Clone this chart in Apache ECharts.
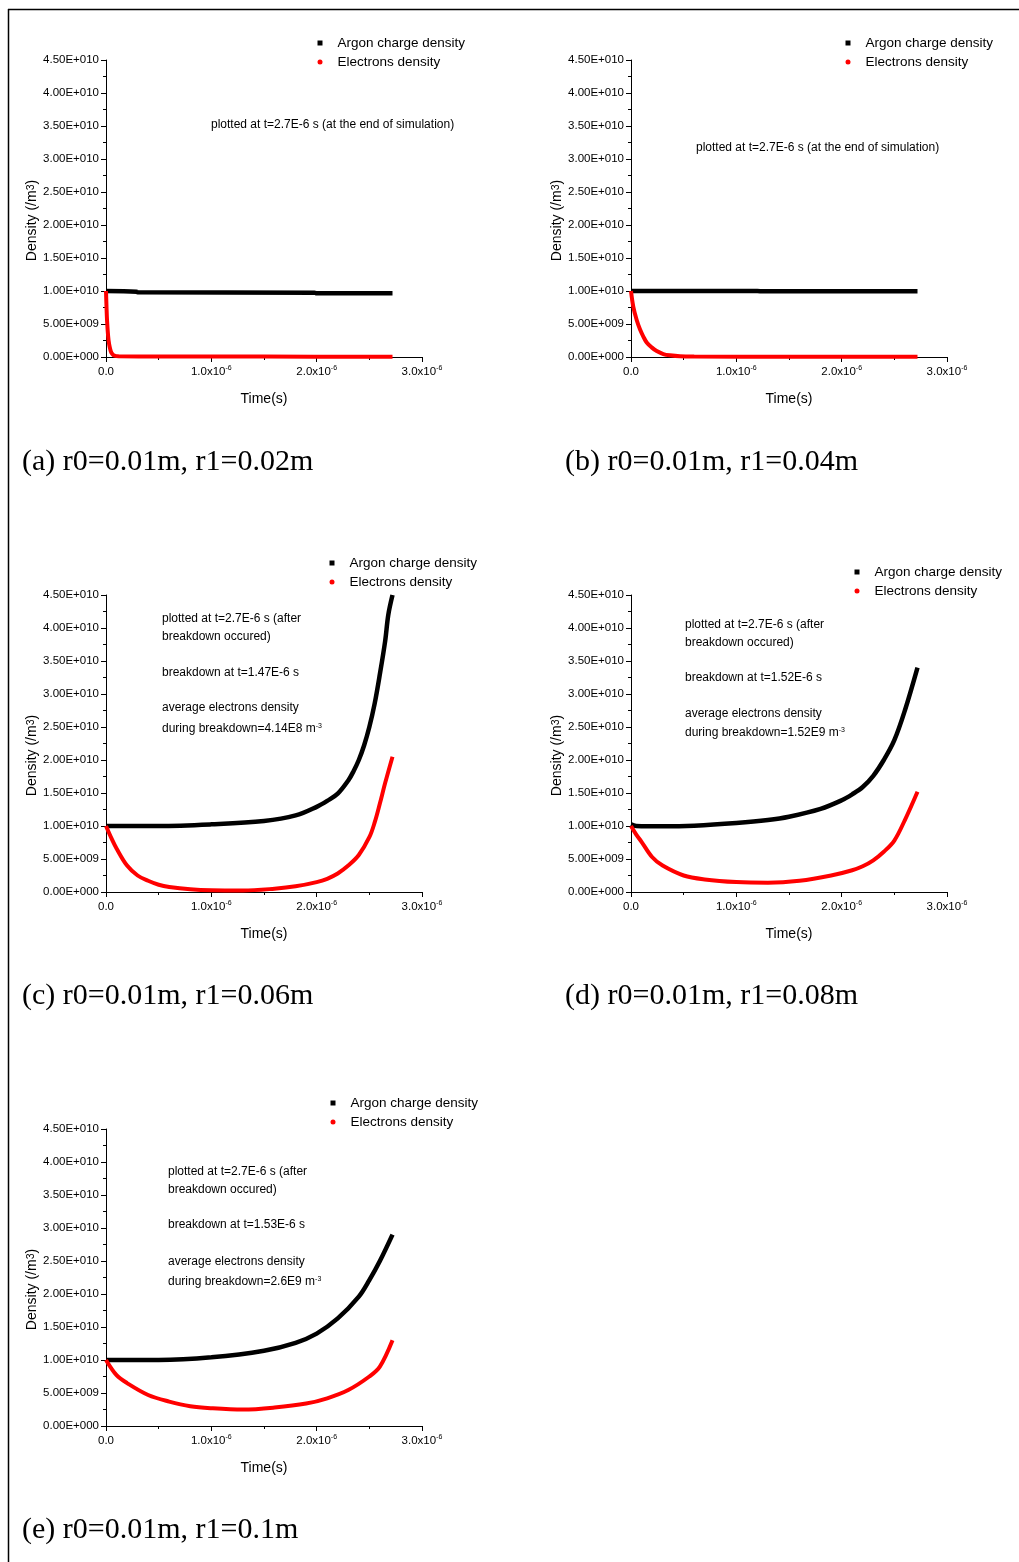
<!DOCTYPE html>
<html><head><meta charset="utf-8">
<script src="https://cdn.jsdelivr.net/npm/echarts@6/dist/echarts.min.js"></script>
<style>html,body{margin:0;padding:0;background:#fff}#c{width:1019px;height:1562px}</style>
</head><body><div id="c"></div><script>
// ---- data (time in seconds, density in /m^3) ----
const a_argT = [0, 0.29e-6, 0.30e-6, 1.98e-6, 2.0e-6, 2.72e-6];
const a_argV = [1.0e10, 0.99e10, 0.98e10, 0.975e10, 0.965e10, 0.965e10];
const a_eleT = [0, 0.005e-6, 0.01e-6, 0.02e-6, 0.03e-6, 0.045e-6, 0.06e-6, 0.08e-6, 0.12e-6, 0.5e-6, 1.5e-6, 2.72e-6];
const a_eleV = [1.0e10, 0.75e10, 0.55e10, 0.32e10, 0.19e10, 0.09e10, 0.045e10, 0.02e10, 0.01e10, 0.008e10, 0.006e10, 0.005e10];

const b_argT = [0, 0.6e-6, 1.2e-6, 1.25e-6, 2.0e-6, 2.72e-6];
const b_argV = [1.0e10, 1.0e10, 1.0e10, 0.995e10, 0.995e10, 0.995e10];
const b_eleT = [0, 0.022e-6, 0.054e-6, 0.085e-6, 0.117e-6, 0.149e-6, 0.196e-6, 0.244e-6, 0.307e-6, 0.37e-6, 0.465e-6, 0.6e-6, 1.5e-6, 2.72e-6];
const b_eleV = [1.0e10, 0.76e10, 0.56e10, 0.42e10, 0.31e10, 0.22e10, 0.146e10, 0.09e10, 0.045e10, 0.025e10, 0.01e10, 0.006e10, 0.005e10, 0.005e10];

const c_argT = [0, 0.5e-6, 1.0e-6, 1.5e-6, 1.8e-6, 2.0e-6, 2.1e-6, 2.2e-6, 2.3e-6, 2.35e-6, 2.4e-6, 2.45e-6, 2.5e-6, 2.55e-6, 2.6e-6, 2.65e-6, 2.68e-6, 2.72e-6];
const c_argV = [1.0e10, 1.0e10, 1.025e10, 1.076e10, 1.16e10, 1.29e10, 1.38e10, 1.49e10, 1.69e10, 1.83e10, 2.0e10, 2.22e10, 2.5e10, 2.85e10, 3.3e10, 3.8e10, 4.2e10, 4.5e10];
const c_eleT = [0, 0.05e-6, 0.1e-6, 0.2e-6, 0.3e-6, 0.4e-6, 0.5e-6, 0.6e-6, 0.8e-6, 1.0e-6, 1.3e-6, 1.6e-6, 1.8e-6, 2.0e-6, 2.1e-6, 2.2e-6, 2.3e-6, 2.4e-6, 2.5e-6, 2.55e-6, 2.6e-6, 2.65e-6, 2.72e-6];
const c_eleV = [1.0e10, 0.82e10, 0.66e10, 0.40e10, 0.25e10, 0.17e10, 0.11e10, 0.076e10, 0.04e10, 0.025e10, 0.022e10, 0.05e10, 0.086e10, 0.15e10, 0.2e10, 0.28e10, 0.40e10, 0.56e10, 0.83e10, 1.05e10, 1.34e10, 1.65e10, 2.05e10];

const d_argT = [0, 0.05e-6, 0.3e-6, 0.6e-6, 1.0e-6, 1.3e-6, 1.5e-6, 1.8e-6, 2.0e-6, 2.1e-6, 2.2e-6, 2.3e-6, 2.4e-6, 2.5e-6, 2.6e-6, 2.72e-6];
const d_argV = [1.025e10, 1.0e10, 0.995e10, 1.005e10, 1.045e10, 1.09e10, 1.14e10, 1.26e10, 1.39e10, 1.48e10, 1.59e10, 1.76e10, 2.0e10, 2.3e10, 2.75e10, 3.4e10];
const d_eleT = [0, 0.05e-6, 0.1e-6, 0.2e-6, 0.3e-6, 0.5e-6, 0.7e-6, 1.0e-6, 1.3e-6, 1.6e-6, 1.9e-6, 2.1e-6, 2.2e-6, 2.3e-6, 2.4e-6, 2.5e-6, 2.6e-6, 2.72e-6];
const d_eleV = [1.0e10, 0.87e10, 0.76e10, 0.53e10, 0.40e10, 0.25e10, 0.19e10, 0.15e10, 0.14e10, 0.17e10, 0.25e10, 0.33e10, 0.39e10, 0.48e10, 0.61e10, 0.78e10, 1.09e10, 1.52e10];

const e_argT = [0, 0.5e-6, 1.0e-6, 1.5e-6, 1.8e-6, 2.0e-6, 2.2e-6, 2.4e-6, 2.5e-6, 2.6e-6, 2.72e-6];
const e_argV = [1.0e10, 1.0e10, 1.04e10, 1.14e10, 1.26e10, 1.40e10, 1.63e10, 1.96e10, 2.21e10, 2.5e10, 2.9e10];
const e_eleT = [0, 0.1e-6, 0.2e-6, 0.4e-6, 0.6e-6, 0.8e-6, 1.0e-6, 1.3e-6, 1.6e-6, 1.9e-6, 2.1e-6, 2.3e-6, 2.5e-6, 2.6e-6, 2.72e-6];
const e_eleV = [1.0e10, 0.77e10, 0.65e10, 0.47e10, 0.37e10, 0.30e10, 0.27e10, 0.25e10, 0.28e10, 0.34e10, 0.42e10, 0.545e10, 0.75e10, 0.90e10, 1.30e10];

const seriesNames = ['Argon charge density', 'Electrons density'];
const captions = ['(a) r0=0.01m, r1=0.02m', '(b) r0=0.01m, r1=0.04m', '(c) r0=0.01m, r1=0.06m', '(d) r0=0.01m, r1=0.08m', '(e) r0=0.01m, r1=0.1m'];
const noteA = 'plotted at t=2.7E-6 s (at the end of simulation)';
const notesC = ['plotted at t=2.7E-6 s (after', 'breakdown occured)', 'breakdown at t=1.47E-6 s', 'average electrons density', 'during breakdown=4.14E8 m{s|-3}'];
const notesD = ['plotted at t=2.7E-6 s (after', 'breakdown occured)', 'breakdown at t=1.52E-6 s', 'average electrons density', 'during breakdown=1.52E9 m{s|-3}'];
const notesE = ['plotted at t=2.7E-6 s (after', 'breakdown occured)', 'breakdown at t=1.53E-6 s', 'average electrons density', 'during breakdown=2.6E9 m{s|-3}'];

const panels = [
  {arg: [a_argT, a_argV], ele: [a_eleT, a_eleV]},
  {arg: [b_argT, b_argV], ele: [b_eleT, b_eleV]},
  {arg: [c_argT, c_argV], ele: [c_eleT, c_eleV]},
  {arg: [d_argT, d_argV], ele: [d_eleT, d_eleV]},
  {arg: [e_argT, e_argV], ele: [e_eleT, e_eleV]}
];

// ---- layout ----
const SANS = '"Liberation Sans", Arial, sans-serif';
const SERIF = '"Liberation Serif", "Times New Roman", serif';
const grids = [
  {left: 106, top: 60}, {left: 631, top: 60},
  {left: 106, top: 595}, {left: 631, top: 595},
  {left: 106, top: 1129}
];
const legendPos = [[317.5, 36], [845.5, 36], [329.5, 556], [854.5, 565], [330.5, 1096]];
const captionPos = [[22, 462], [565, 462], [22, 996], [565, 996], [22, 1530]];

function fmtY(v) {
  if (v === 0) return '0.00E+000';
  const e = Math.floor(Math.log10(v) + 1e-9);
  const m = v / Math.pow(10, e);
  return m.toFixed(2) + 'E+' + String(e).padStart(3, '0');
}
function fmtX(v) {
  if (v === 0) return '{a|0.0}';
  const m = Math.round(v * 1e7) / 10;
  return '{a|' + m.toFixed(1) + 'x10}{b|-6}';
}
function zip(t, v) { return t.map((x, i) => [x, v[i]]); }

const option = {
  backgroundColor: '#fff',
  animation: false,
  grid: grids.map(g => ({left: g.left, top: g.top, width: 316, height: 297, containLabel: false})),
  xAxis: grids.map((g, i) => ({
    gridIndex: i, type: 'value', min: 0, max: 3e-6, interval: 1e-6,
    axisLine: {onZero: false, lineStyle: {color: '#000', width: 1}},
    axisTick: {length: 5, lineStyle: {color: '#000', width: 1}},
    minorTick: {show: true, splitNumber: 2, length: 3, lineStyle: {color: '#000', width: 1}},
    splitLine: {show: false},
    axisLabel: {margin: 8, color: '#000', formatter: fmtX, fontFamily: SANS,
      rich: {a: {fontSize: 11.5, fontFamily: SANS, color: '#000', lineHeight: 14},
             b: {fontSize: 7, fontFamily: SANS, color: '#000', verticalAlign: 'top', lineHeight: 8}}},
    name: 'Time(s)', nameLocation: 'middle', nameGap: 35,
    nameTextStyle: {fontSize: 14, fontFamily: SANS, color: '#000'}
  })),
  yAxis: grids.map((g, i) => ({
    gridIndex: i, type: 'value', min: 0, max: 4.5e10, interval: 5e9,
    axisLine: {show: true, onZero: false, lineStyle: {color: '#000', width: 1}},
    axisTick: {show: true, length: 5, lineStyle: {color: '#000', width: 1}},
    minorTick: {show: true, splitNumber: 2, length: 3, lineStyle: {color: '#000', width: 1}},
    splitLine: {show: false},
    axisLabel: {margin: 7, color: '#000', fontSize: 11.5, fontFamily: SANS, formatter: fmtY},
    name: 'Density (/m{s|3})', nameLocation: 'middle', nameGap: 60,
    nameTextStyle: {fontSize: 14, fontFamily: SANS, color: '#000', padding: [0, 24, 0, 0],
      rich: {s: {fontSize: 10.5, fontFamily: SANS, color: '#000', verticalAlign: 'top', lineHeight: 10}}}
  })),
  legend: legendPos.map(p => ({
    left: p[0], top: p[1], orient: 'vertical', padding: 0,
    itemWidth: 5, itemHeight: 5, itemGap: 5, selectedMode: false,
    textStyle: {fontSize: 13.5, fontFamily: SANS, color: '#000', lineHeight: 14, padding: [0, 0, 0, 10]},
    data: [{name: seriesNames[0], icon: 'rect'}, {name: seriesNames[1], icon: 'circle'}]
  })),
  series: []
};
panels.forEach((p, i) => {
  option.series.push({
    name: seriesNames[0], type: 'line', xAxisIndex: i, yAxisIndex: i,
    data: zip(p.arg[0], p.arg[1]), showSymbol: false, smooth: 0.35,
    lineStyle: {color: '#000', width: 4.5}, itemStyle: {color: '#000'}
  });
  option.series.push({
    name: seriesNames[1], type: 'line', xAxisIndex: i, yAxisIndex: i,
    data: zip(p.ele[0], p.ele[1]), showSymbol: false, smooth: 0.35,
    lineStyle: {color: '#ff0000', width: 4}, itemStyle: {color: '#ff0000'}
  });
});

const g = [];
g.push({type: 'line', shape: {x1: 8, y1: 9.5, x2: 1019, y2: 9.5}, style: {stroke: '#000', lineWidth: 1.5}});
g.push({type: 'line', shape: {x1: 8.5, y1: 9, x2: 8.5, y2: 1562}, style: {stroke: '#000', lineWidth: 1.5}});
captions.forEach((c, i) => g.push({type: 'text', x: captionPos[i][0], y: captionPos[i][1],
  style: {text: c, font: '30px ' + SERIF, fill: '#000', verticalAlign: 'middle'}}));
const noteStyle = (t) => ({text: t, font: '12px ' + SANS, fill: '#000', verticalAlign: 'middle',
  rich: {s: {fontSize: 7, fontFamily: SANS, fill: '#000', verticalAlign: 'top', lineHeight: 7}}});
g.push({type: 'text', x: 211, y: 125, style: noteStyle(noteA)});
g.push({type: 'text', x: 696, y: 148, style: noteStyle(noteA)});
const ys = [[619, 637, 673, 708, 729], [625, 643, 678, 714, 733], [1172, 1190, 1225, 1262, 1282]];
[[notesC, 162], [notesD, 685], [notesE, 168]].forEach((n, k) => {
  n[0].forEach((t, j) => g.push({type: 'text', x: n[1], y: ys[k][j], style: noteStyle(t)}));
});
option.graphic = g;

const chart = echarts.init(document.getElementById('c'), null, {renderer: 'canvas'});
chart.setOption(option);
</script></body></html>
